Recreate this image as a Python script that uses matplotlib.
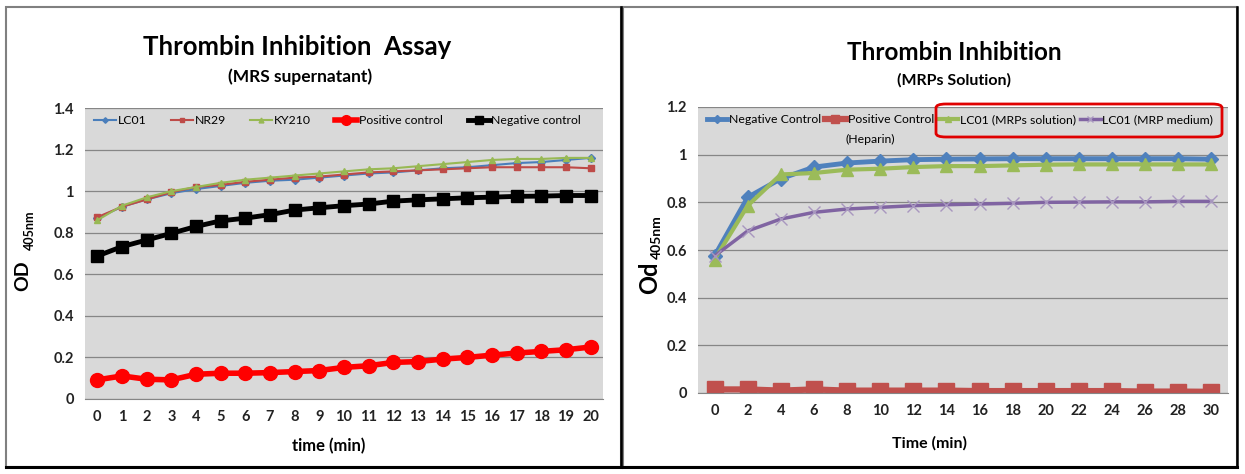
import matplotlib
matplotlib.use("Agg")
import matplotlib.pyplot as plt
from matplotlib.patches import Rectangle, FancyBboxPatch

plt.rcParams["font.family"] = ["Lato", "DejaVu Sans"]

# left chart: MRS supernatant, 0..20 min
time_left = list(range(0, 21))
lc01 = [0.87, 0.925, 0.96, 0.99, 1.01, 1.025, 1.04, 1.05, 1.055, 1.065, 1.075,
        1.085, 1.09, 1.10, 1.11, 1.115, 1.125, 1.135, 1.14, 1.15, 1.16]
nr29 = [0.875, 0.925, 0.96, 0.995, 1.02, 1.03, 1.045, 1.055, 1.065, 1.07, 1.08,
        1.09, 1.095, 1.10, 1.105, 1.11, 1.115, 1.115, 1.115, 1.115, 1.11]
ky210 = [0.86, 0.93, 0.97, 1.0, 1.02, 1.04, 1.055, 1.065, 1.075, 1.085, 1.095,
         1.105, 1.11, 1.12, 1.13, 1.14, 1.15, 1.155, 1.155, 1.16, 1.16]
pos_left = [0.092, 0.111, 0.095, 0.092, 0.119, 0.124, 0.124, 0.127, 0.132, 0.137, 0.152,
            0.16, 0.176, 0.18, 0.192, 0.2, 0.211, 0.221, 0.229, 0.237, 0.25]
neg_left = [0.688, 0.733, 0.765, 0.797, 0.83, 0.857, 0.87, 0.887, 0.909, 0.92, 0.93,
            0.938, 0.952, 0.958, 0.963, 0.968, 0.971, 0.975, 0.976, 0.979, 0.979]

# right chart: MRPs solution, 0..30 min
time_right = list(range(0, 31, 2))
neg_right = [0.575, 0.821, 0.899, 0.948, 0.965, 0.973, 0.979, 0.981, 0.982, 0.983,
             0.983, 0.983, 0.983, 0.983, 0.983, 0.981]
pos_right = [0.015, 0.015, 0.01, 0.015, 0.01, 0.01, 0.01, 0.01, 0.008, 0.008,
             0.008, 0.008, 0.008, 0.006, 0.006, 0.005]
lc01_sol = [0.56, 0.786, 0.917, 0.923, 0.937, 0.941, 0.948, 0.952, 0.952, 0.955,
            0.958, 0.959, 0.959, 0.959, 0.959, 0.959]
lc01_med = [0.575, 0.68, 0.73, 0.758, 0.772, 0.779, 0.786, 0.79, 0.793, 0.796,
            0.80, 0.801, 0.802, 0.802, 0.804, 0.804]

W, H = 1245, 474
fig = plt.figure(figsize=(W / 100, H / 100), dpi=100)


def box(x0, y0, x1, y1):
    # pixel box -> figure fraction
    return [x0 / W, 1 - y1 / H, (x1 - x0) / W, (y1 - y0) / H]


# panel frames: grey top/left, dark bottom/right
for x0, x1 in [(6, 621), (623, 1237)]:
    fig.patches.append(Rectangle((x0 / W, 1 - 467 / H), (x1 - x0) / W, 460 / H,
                                 transform=fig.transFigure, fill=False,
                                 ec="#808080", lw=1.5))
    fig.lines.append(plt.Line2D([x0 / W, x1 / W], [1 - 467 / H] * 2,
                                transform=fig.transFigure, color="black", lw=2.2))
    fig.lines.append(plt.Line2D([x1 / W] * 2, [1 - 467 / H, 1 - 7 / H],
                                transform=fig.transFigure, color="black", lw=1.8))


def style(ax, ymax):
    ax.set_facecolor("#D9D9D9")
    for s in ["top", "right", "left"]:
        ax.spines[s].set_visible(False)
    ax.spines["bottom"].set_color("#868686")
    ax.set_ylim(0, ymax)
    ax.yaxis.grid(True, color="#868686", lw=0.9)
    ax.set_axisbelow(True)
    ax.tick_params(length=0, labelsize=10.5, pad=8)
    for lab in ax.get_xticklabels():
        lab.set_fontweight("bold")
        lab.set_color("#222222")
    ticks = [round(0.2 * i, 1) for i in range(int(round(ymax / 0.2)) + 1)]
    ax.set_yticks(ticks)
    ax.set_yticklabels([f"{v:g}" for v in ticks], fontweight="bold", color="#222222")


leg_kw = dict(frameon=False, fontsize=8.8, handletextpad=0.15, borderaxespad=0.3)

# ---- left chart
ax1 = fig.add_axes(box(85, 108, 603, 399))
ax1.plot(time_left, lc01, color="#4A7EBB", lw=1.5, marker="D", ms=4, label="LC01")
ax1.plot(time_left, nr29, color="#BE4B48", lw=1.5, marker="s", ms=4, label="NR29")
ax1.plot(time_left, ky210, color="#98B954", lw=1.5, marker="^", ms=5, label="KY210")
ax1.plot(time_left, pos_left, color="#FF0000", lw=4, marker="o", ms=10, label="Positive control")
ax1.plot(time_left, neg_left, color="#000000", lw=3.5, marker="s", ms=8, label="Negative control")
ax1.set_xlim(-0.5, 20.5)
ax1.set_xticks(time_left)
style(ax1, 1.4)
ax1.legend(loc="upper left", bbox_to_anchor=(0.0, 1.005), ncol=5, handlelength=1.8,
           columnspacing=2.0, markerscale=0.7, **leg_kw)
fig.text(297 / W, 1 - 47 / H, "Thrombin Inhibition  Assay", ha="center", va="center",
         fontsize=18.5, fontweight="bold")
fig.text(300 / W, 1 - 77 / H, "(MRS supernatant)", ha="center", va="center",
         fontsize=12.5, fontweight="bold")
fig.text(329 / W, 1 - 446 / H, "time (min)", ha="center", va="center",
         fontsize=12, fontweight="bold")
fig.text(23 / W, 1 - 276 / H, "OD", rotation=90, ha="center", va="center",
         fontsize=14, fontweight="bold")
fig.text(30 / W, 1 - 230 / H, "405nm", rotation=90, ha="center", va="center",
         fontsize=9, fontweight="bold")

# ---- right chart
ax2 = fig.add_axes(box(698, 107, 1228, 393))
ax2.plot(time_right, neg_right, color="#4F81BD", lw=3.5, marker="D", ms=7, label="Negative Control")
ax2.plot(time_right, pos_right, color="#C0504D", lw=4.5, marker="s", ms=11, label="Positive Control")
ax2.plot(time_right, lc01_sol, color="#9BBB59", lw=3, marker="^", ms=8, label="LC01 (MRPs solution)")
ax2.plot(time_right, lc01_med, color="#8064A2", lw=2.5, marker="x", ms=9, mew=1,
         mec="#A897BF", label="LC01 (MRP medium)")
ax2.set_xlim(-1, 31)
ax2.set_xticks(time_right)
style(ax2, 1.2)
ax2.legend(loc="upper left", bbox_to_anchor=(0.0, 1.005), ncol=4, handlelength=1.7,
           columnspacing=0.3, markerscale=0.55, **leg_kw)
fig.text(845 / W, 1 - 139 / H, "(Heparin)", ha="left", va="center", fontsize=8.8)
fig.patches.append(FancyBboxPatch((936 / W, 1 - 137 / H), 286 / W, 33 / H,
                                  boxstyle="round,pad=0,rounding_size=0.008",
                                  transform=fig.transFigure, fill=False,
                                  ec="#E00000", lw=2))
fig.text(954 / W, 1 - 52 / H, "Thrombin Inhibition", ha="center", va="center",
         fontsize=17.5, fontweight="bold")
fig.text(954 / W, 1 - 80 / H, "(MRPs Solution)", ha="center", va="center",
         fontsize=11.5, fontweight="bold")
fig.text(930 / W, 1 - 443 / H, "Time (min)", ha="center", va="center",
         fontsize=11.5, fontweight="bold")
fig.text(650 / W, 1 - 278 / H, "Od", rotation=90, ha="center", va="center",
         fontsize=17, fontweight="bold")
fig.text(657 / W, 1 - 237 / H, "405nm", rotation=90, ha="center", va="center",
         fontsize=10, fontweight="bold")

fig.savefig("out.png", dpi=100)
